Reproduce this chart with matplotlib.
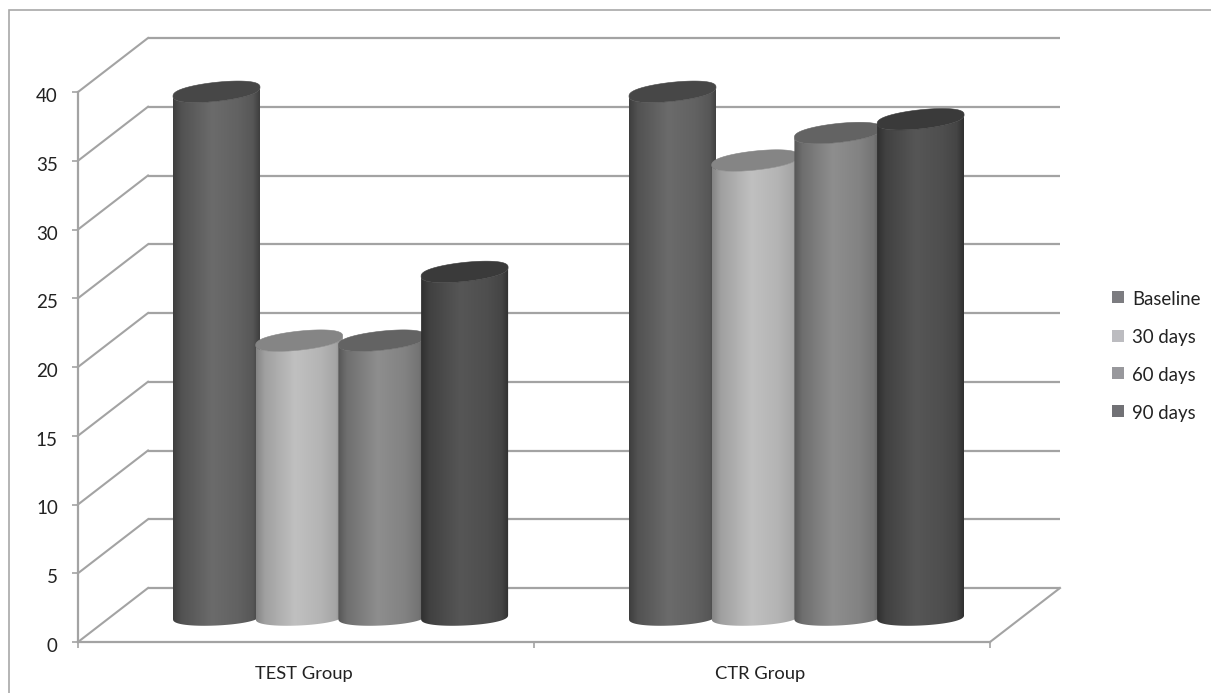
import numpy as np
import matplotlib
matplotlib.use("Agg")
import matplotlib.pyplot as plt
from matplotlib.patches import PathPatch, Rectangle
from matplotlib.path import Path
from matplotlib.transforms import ScaledTranslation

plt.rcParams['font.family'] = ['Lato', 'DejaVu Sans']

groups = ["TEST Group", "CTR Group"]
series = ["Baseline", "30 days", "60 days", "90 days"]
test_values = [38.2, 20.1, 20.1, 25.1]
ctr_values = [38.2, 33.2, 35.2, 36.2]
y_ticks = [0, 5, 10, 15, 20, 25, 30, 35, 40]

# edge, centre and lid greys for each cylinder, then the legend swatch
edge_cols = ["#3e3e3e", "#858585", "#565656", "#303030"]
mid_cols = ["#6b6b6b", "#c0c0c0", "#8e8e8e", "#565656"]
top_cols = ["#474747", "#858585", "#636363", "#3a3a3a"]
key_cols = ["#7c7c80", "#bcbcc0", "#98989c", "#717175"]

W, H = 1211, 693
LEFT, RIGHT, BOTTOM, TOP = 78, 990, 642, 92
grid_col = "#a3a3a3"
text_col = "#222222"

fig = plt.figure(figsize=(W / 100, H / 100), dpi=100)
ax = fig.add_axes([LEFT / W, 1 - BOTTOM / H, (RIGHT - LEFT) / W, (BOTTOM - TOP) / H])
ax.set_xlim(0, 2)
ax.set_ylim(0, 40)
ax.patch.set_visible(False)

# pixel to data sizes
px_x = 2 / (RIGHT - LEFT)
px_y = 40 / (BOTTOM - TOP)
depth_x = 70 * px_x
depth_y = 54 * px_y

# outer chart border
fig.add_artist(Rectangle((9 / W, -0.01), 1.1, 1 - 10 / H + 0.01, transform=fig.transFigure,
                         fill=False, ec="#a8a8a8", lw=1.2))

# back wall and side wall lines
for v in y_ticks:
    ax.plot([0, depth_x], [v, v + depth_y], color=grid_col, lw=1.5, clip_on=False, zorder=1)
    ax.plot([depth_x, 2 + depth_x], [v + depth_y, v + depth_y], color=grid_col, lw=1.6,
            clip_on=False, zorder=1, solid_capstyle='butt')
ax.plot([2, 2 + depth_x], [0, depth_y], color=grid_col, lw=1.5, clip_on=False, zorder=1)

for s in ["top", "right"]:
    ax.spines[s].set_visible(False)
for s in ["left", "bottom"]:
    ax.spines[s].set_color(grid_col)
    ax.spines[s].set_linewidth(1.6)
    ax.spines[s].set_zorder(1)

ax.set_yticks(y_ticks)
ax.set_xticks([0, 1, 2])
ax.set_xticklabels([])
ax.tick_params(axis='both', color=grid_col, width=1.2, length=4.5)
ax.tick_params(axis='y', labelsize=13.5, labelcolor=text_col, pad=10)
# numbers sit a little under their ticks
down = ScaledTranslation(0, -3 / 100, fig.dpi_scale_trans)
for lab in ax.get_yticklabels():
    lab.set_transform(lab.get_transform() + down)

for i, g in enumerate(groups):
    ax.text(i + 0.5 - 2 * px_x, -37 * px_y, g, ha='center', va='baseline', fontsize=13.2, color=text_col)


def ellipse_pts(cx, cy, a, b, skew, t):
    s = np.sin(t)
    x = cx + a * np.cos(t)
    # slightly blunt ends, the lids are rounder than a plain sheared ellipse
    y = cy + b * np.sign(s) * np.abs(s) ** 0.8 + skew * np.cos(t)
    return np.column_stack([x, y])


def cylinder(cx, value, k):
    a = 43.5 * px_x
    base = (BOTTOM - 617) * px_y
    top = base + value
    t_low = np.linspace(np.pi, 2 * np.pi, 50)
    lower = ellipse_pts(cx, base, a, 8.5 * px_y, 2 * px_y, t_low)
    upper = ellipse_pts(cx, top, a, 9.5 * px_y, 4.5 * px_y, t_low[::-1])
    body = np.vstack([lower, upper, lower[:1]])
    clip = PathPatch(Path(body), transform=ax.transData, fc='none', ec='none')
    ax.add_patch(clip)
    clip.set_clip_on(False)

    # shading across the cylinder, brightest a little left of centre
    u = np.linspace(0, 1, 200)
    shade = np.interp(u, [0, 0.1, 0.45, 0.75, 0.92, 1], [0, 0.45, 1, 0.8, 0.55, 0])
    c0 = np.array(matplotlib.colors.to_rgb(edge_cols[k]))
    c1 = np.array(matplotlib.colors.to_rgb(mid_cols[k]))
    img = (c0[None, :] + (c1 - c0)[None, :] * shade[:, None])[None, :, :]
    im = ax.imshow(img, extent=[cx - a, cx + a, base - 1, top + 1], aspect='auto',
                   origin='lower', zorder=2 + 0.01 * cx)
    im.set_clip_box(fig.bbox)
    im.set_clip_path(clip)

    lid = Path(ellipse_pts(cx, top, a, 9.5 * px_y, 4.5 * px_y, np.linspace(0, 2 * np.pi, 100)))
    ax.add_patch(PathPatch(lid, fc=top_cols[k], ec=top_cols[k], lw=0.4, clip_on=False,
                           zorder=2.001 + 0.01 * cx))


for i, vals in enumerate([test_values, ctr_values]):
    for k, v in enumerate(vals):
        cx = i + (95 + 43.5 + k * 82.7) * px_x
        cylinder(cx, v, k)

ax.set_xlim(0, 2)
ax.set_ylim(0, 40)

# legend
key_y = [296.5, 335.5, 372.5, 410.5]
text_base = [305, 343, 381, 419]
for name, col, y, b in zip(series, key_cols, key_y, text_base):
    fig.add_artist(Rectangle((1112 / W, 1 - (y + 6) / H), 12 / W, 12 / H, transform=fig.transFigure,
                             fc=col, ec='none'))
    fig.text(1132 / W, 1 - b / H, name, ha='left', va='baseline', fontsize=13.4, color=text_col)

fig.savefig("out.png", dpi=100)
